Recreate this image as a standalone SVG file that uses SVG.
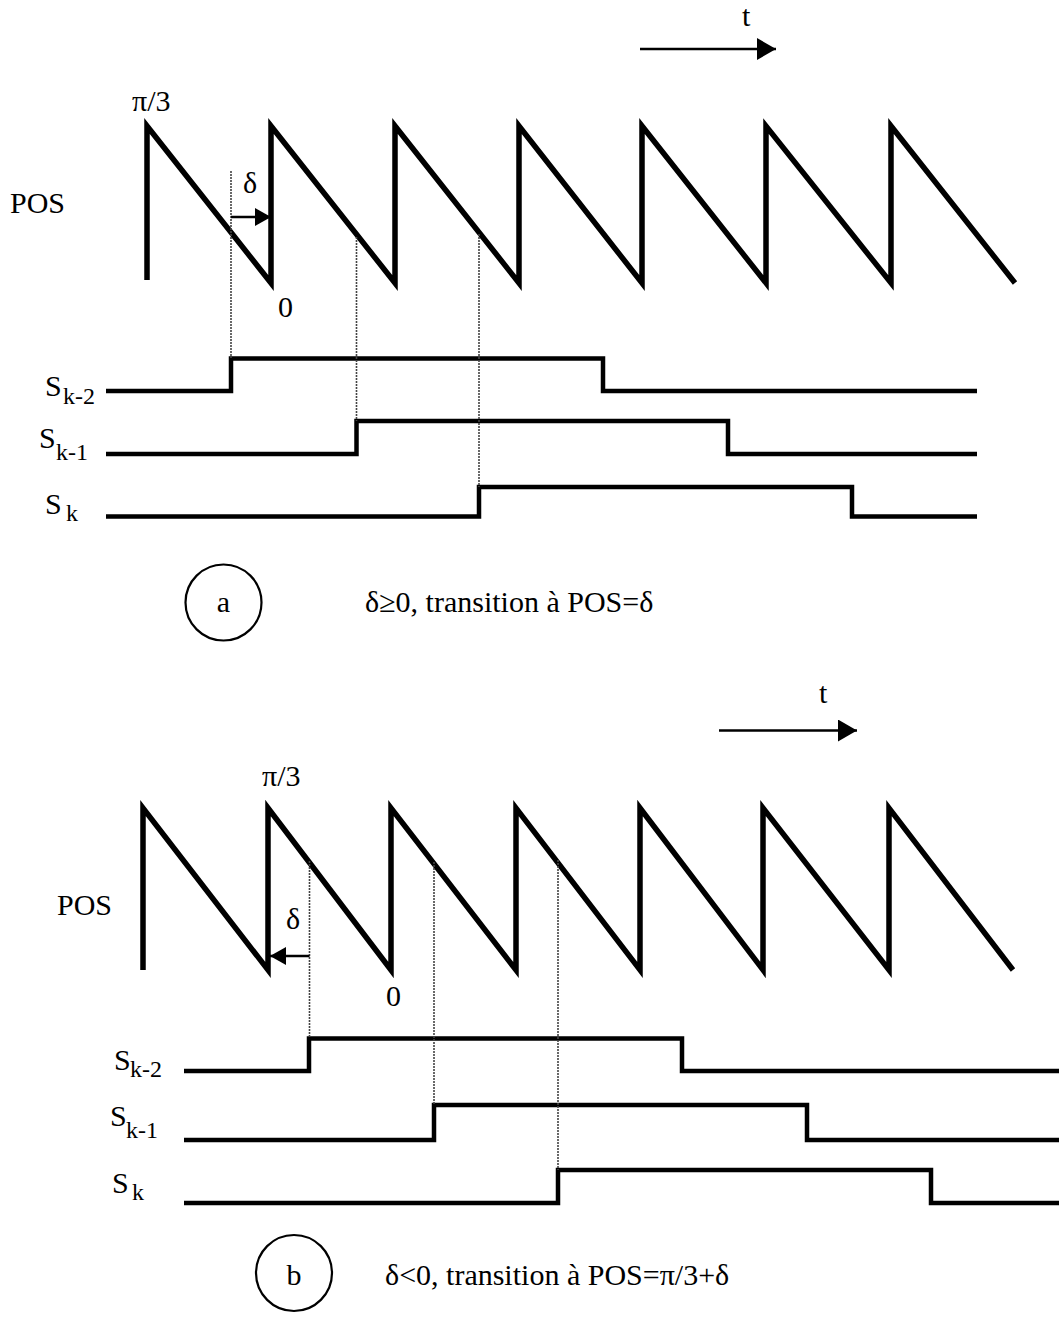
<svg xmlns="http://www.w3.org/2000/svg" width="1059" height="1317" viewBox="0 0 1059 1317">
<defs>
<style>
.wave{fill:none;stroke:#000;stroke-width:5.5;stroke-linejoin:miter;stroke-miterlimit:10}
.sig{fill:none;stroke:#000;stroke-width:4.5;stroke-linejoin:miter}
.guide{fill:none;stroke:#444;stroke-width:1.6;stroke-dasharray:2 1}
.arr{fill:none;stroke:#000;stroke-width:2.6}
.txt{font-family:"Liberation Serif","Times New Roman",serif;font-size:30px;fill:#000}
.sub{font-size:24px}
.circ{fill:none;stroke:#000;stroke-width:2.2}
</style>
<marker id="headL" markerUnits="userSpaceOnUse" markerWidth="20" markerHeight="22" refX="19" refY="11" orient="auto">
<path d="M0,0 L19,11 L0,22 z" fill="#000"/>
</marker>
<marker id="headS" markerUnits="userSpaceOnUse" markerWidth="17" markerHeight="18" refX="16" refY="9" orient="auto">
<path d="M0,0 L16,9 L0,18 z" fill="#000"/>
</marker>
</defs>
<rect width="1059" height="1317" fill="#fff"/>

<g id="panel-a">
<g id="pos-wave-a">
<path class="wave" d="M147,280 L147,126 L271,283 L271,126 L395,283 L395,126 L519,283 L519,126 L642,283 L642,126 L766,283 L766,126 L891,283 L891,126 L1015,283"/>
</g>
<g id="sk2-a"><path class="sig" d="M106,391 H231 V358.5 H603 V391 H977"/></g>
<g id="sk1-a"><path class="sig" d="M106,454 H356.5 V421 H728 V454 H977"/></g>
<g id="sk-a"><path class="sig" d="M106,516.5 H479 V487 H852 V516.5 H977"/></g>
<g id="label-a">
<circle class="circ" cx="223.5" cy="602.5" r="38"/>
<text class="txt" x="223.5" y="612" text-anchor="middle">a</text>
</g>
</g>

<g id="panel-b">
<g id="pos-wave-b">
<path class="wave" d="M143,970 L143,808 L268,970 L268,808 L391,970 L391,808 L516,970 L516,808 L640,970 L640,808 L763,970 L763,808 L889,970 L889,808 L1013,970"/>
</g>
<g id="sk2-b"><path class="sig" d="M184,1071 H309 V1038.5 H682 V1071 H1059"/></g>
<g id="sk1-b"><path class="sig" d="M184,1140 H434 V1105 H807 V1140 H1059"/></g>
<g id="sk-b"><path class="sig" d="M184,1203 H558 V1170 H931 V1203 H1059"/></g>
<g id="label-b">
<circle class="circ" cx="294" cy="1273" r="38"/>
<text class="txt" x="294" y="1285" text-anchor="middle">b</text>
</g>
</g>

<g id="connectors">
<line class="guide" x1="231" y1="171" x2="231" y2="358"/>
<line class="guide" x1="356.5" y1="237" x2="356.5" y2="421"/>
<line class="guide" x1="479" y1="234" x2="479" y2="487"/>
<line class="guide" x1="309.5" y1="861" x2="309.5" y2="1038"/>
<line class="guide" x1="434" y1="862" x2="434" y2="1105"/>
<line class="guide" x1="558" y1="860" x2="558" y2="1170"/>
<line class="arr" x1="231" y1="217" x2="271" y2="217" marker-end="url(#headS)"/>
<line class="arr" x1="309.5" y1="956" x2="270" y2="956" marker-end="url(#headS)"/>
<line class="arr" x1="640" y1="49" x2="776" y2="49" marker-end="url(#headL)"/>
<line class="arr" x1="719" y1="730.5" x2="857" y2="730.5" marker-end="url(#headL)"/>
</g>

<g id="texts">
<text class="txt" x="742" y="26">t</text>
<text class="txt" x="132" y="111">π/3</text>
<text class="txt" x="243" y="193">δ</text>
<text class="txt" x="10" y="213">POS</text>
<text class="txt" x="278" y="317">0</text>
<text class="txt" x="45" y="396">S</text><text class="txt sub" x="63" y="404">k-2</text>
<text class="txt" x="39" y="448">S</text><text class="txt sub" x="56" y="460">k-1</text>
<text class="txt" x="45" y="514">S</text><text class="txt sub" x="66" y="521">k</text>
<text class="txt" x="365" y="612">δ≥0, transition à POS=δ</text>

<text class="txt" x="819" y="703">t</text>
<text class="txt" x="262" y="786">π/3</text>
<text class="txt" x="286" y="929">δ</text>
<text class="txt" x="57" y="915">POS</text>
<text class="txt" x="386" y="1006">0</text>
<text class="txt" x="114" y="1070">S</text><text class="txt sub" x="130" y="1077">k-2</text>
<text class="txt" x="110" y="1126">S</text><text class="txt sub" x="126" y="1138">k-1</text>
<text class="txt" x="112" y="1193">S</text><text class="txt sub" x="132" y="1200">k</text>
<text class="txt" x="385" y="1285">δ&lt;0, transition à POS=π/3+δ</text>
</g>
</svg>
